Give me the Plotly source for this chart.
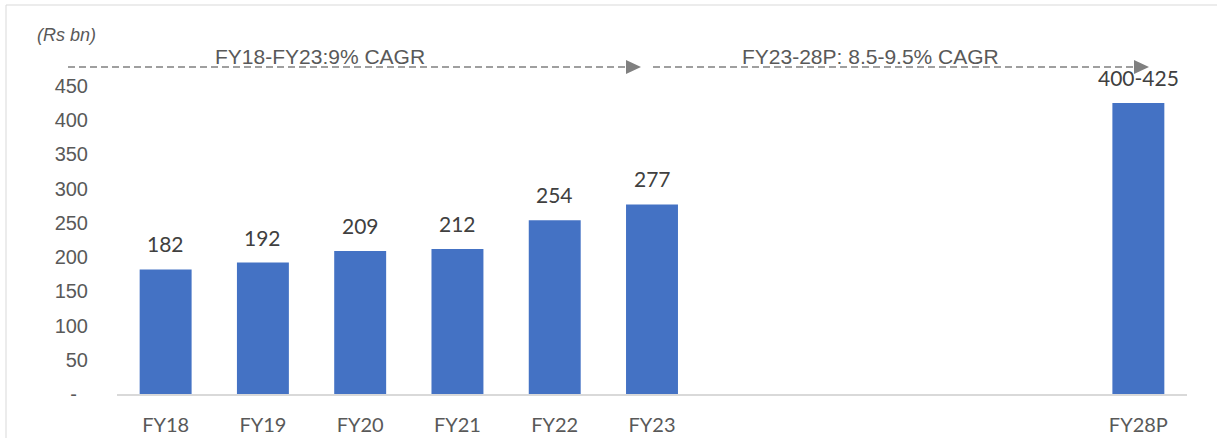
import plotly.graph_objects as go

# ---- data ----
periods = ["FY18", "FY19", "FY20", "FY21", "FY22", "FY23", "FY24", "FY25", "FY26", "FY27", "FY28P"]
bar_periods = ["FY18", "FY19", "FY20", "FY21", "FY22", "FY23", "FY28P"]
bar_values = [182, 192, 209, 212, 254, 277, 425]
bar_labels = ["182", "192", "209", "212", "254", "277", "400-425"]
y_ticks = [0, 50, 100, 150, 200, 250, 300, 350, 400, 450]
y_tick_text = ["-\u00a0\u00a0", "50", "100", "150", "200", "250", "300", "350", "400", "450"]
unit_label = "(Rs bn)"
cagr_texts = ["FY18-FY23:9% CAGR", "FY23-28P: 8.5-9.5% CAGR"]

W, H = 1217, 438
ML, MR, MT, MB = 117, 30, 86, 44
PW, PH = W - ML - MR, H - MT - MB


def px(x):
    return (x - ML) / PW


def py(y):
    return (H - MB - y) / PH


fig = go.Figure()
fig.add_trace(go.Bar(
    x=bar_periods, y=bar_values,
    marker=dict(color="#4472C4", line=dict(width=0)),
    hoverinfo="x+y",
))

# value labels above bars
for xc, v, t in zip(bar_periods, bar_values, bar_labels):
    fig.add_annotation(x=xc, y=v, text=t, showarrow=False, yanchor="bottom",
                       yshift=11, font=dict(family="Lato", size=21, color="#404040"))

grey = "#808080"
line_y = py(67)
# dashed arrows
segments = [(68, 626, 641), (653, 1134, 1149)]
for x0, xb, xt in segments:
    fig.add_shape(type="line", xref="paper", yref="paper", x0=px(x0), x1=px(xb),
                  y0=line_y, y1=line_y, line=dict(color=grey, width=1.5, dash="7px,4px"))
    fig.add_shape(type="path", xref="paper", yref="paper",
                  path=f"M {px(xb)},{py(60)} L {px(xt)},{py(67)} L {px(xb)},{py(74)} Z",
                  fillcolor=grey, line=dict(color=grey, width=0))

for t, cx in zip(cagr_texts, [320, 870]):
    fig.add_annotation(xref="paper", yref="paper", x=px(cx), y=py(67), text=t,
                       showarrow=False, xanchor="center", yanchor="bottom", yshift=-3,
                       font=dict(family="Liberation Sans", size=21, color="#595959"))

fig.add_annotation(xref="paper", yref="paper", x=px(35), y=py(35), text=f"<i>{unit_label}</i>",
                   showarrow=False, xanchor="left", yanchor="middle",
                   font=dict(family="Liberation Sans", size=18, color="#595959"))

# light frame
fig.add_shape(type="rect", xref="paper", yref="paper", x0=px(6), x1=px(1300),
              y0=py(500), y1=py(5), line=dict(color="#d9d9d9", width=1), fillcolor="rgba(0,0,0,0)")

fig.update_layout(
    width=W, height=H, autosize=False,
    margin=dict(l=ML, r=MR, t=MT, b=MB),
    paper_bgcolor="white", plot_bgcolor="white",
    bargap=0.466, showlegend=False,
    xaxis=dict(type="category", categoryorder="array", categoryarray=periods,
               tickvals=bar_periods, ticktext=bar_periods, showgrid=False,
               showline=True, linecolor="#d9d9d9", linewidth=1.5, ticks="",
               ticklabelstandoff=12, automargin=False,
               tickfont=dict(family="Lato", size=20, color="#595959"), fixedrange=True),
    yaxis=dict(range=[0, 450], tickvals=y_ticks, ticktext=y_tick_text, showgrid=False,
               zeroline=False, showline=False, ticks="", ticklabelstandoff=28,
               automargin=False,
               tickfont=dict(family="Liberation Sans", size=20, color="#595959"), fixedrange=True),
)

fig.write_html(
    "out.html",
    config={"responsive": False, "displayModeBar": False},
    post_script="document.body.style.margin='0';document.body.style.overflow='hidden';",
)
